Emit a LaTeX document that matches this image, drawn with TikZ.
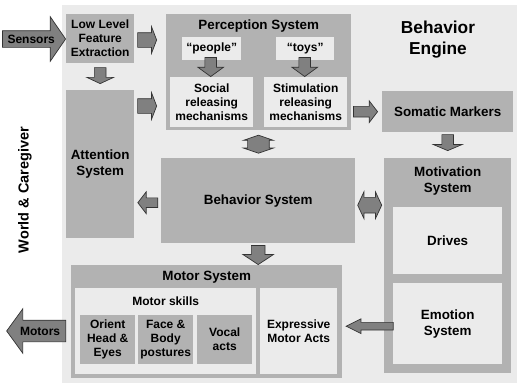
\documentclass[tikz,border=0pt]{standalone}
\usepackage{fontspec}
\setmainfont{Liberation Sans}
\usetikzlibrary{shapes.arrows,calc}
\definecolor{bggray}{gray}{0.92}
\definecolor{boxgray}{gray}{0.70}
\definecolor{arrowgray}{gray}{0.50}
\definecolor{edgegray}{gray}{0.20}
\tikzset{
  box/.style={fill=boxgray, align=center, inner sep=0pt, anchor=north west, font=\bfseries\fontsize{12}{14}\selectfont},
  palebox/.style={box, fill=bggray},
  bigtext/.style={font=\bfseries\fontsize{13.4}{16}\selectfont},
  boxtitle/.style={anchor=center, align=center, font=\bfseries\fontsize{13.4}{16}\selectfont},
  barrow/.style={single arrow, draw=edgegray, fill=arrowgray, line width=0.7pt, inner sep=0pt, minimum width=0pt},
  darrow/.style={double arrow, draw=edgegray, fill=arrowgray, line width=0.7pt, inner sep=0pt, minimum width=0pt}
}
\begin{document}
\begin{tikzpicture}[x=1pt, y=-1pt]
  \useasboundingbox (0,0) rectangle (517,383);
  \fill[bggray] (62,5) rectangle (517,383);
  % boxes
  \node[box, minimum width=68pt, minimum height=49pt] (llfe) at (66,14) {Low Level\\Feature\\Extraction};
  \node[box, bigtext, minimum width=68pt, minimum height=148pt] (attn) at (66,90) {Attention\\System};
  \node[box, minimum width=185pt, minimum height=116pt,
        label={[boxtitle, yshift=-12pt]north:Perception System}] (percep) at (166,14) {};
  \node[palebox, minimum width=59pt, minimum height=23pt] (people) at (182,37) {“people”};
  \node[palebox, minimum width=58pt, minimum height=23pt] (toys) at (276,37) {“toys”};
  \node[palebox, minimum width=83pt, minimum height=50pt] (social) at (170,77) {Social\\releasing\\mechanisms};
  \node[palebox, minimum width=83pt, minimum height=50pt] (stim) at (264,77) {Stimulation\\releasing\\mechanisms};
  \node[font=\bfseries\fontsize{17.3}{21}\selectfont, align=center] (engine) at (438,40) {Behavior\\Engine};
  \node[box, bigtext, minimum width=131pt, minimum height=41pt] (somatic) at (382,91) {Somatic Markers};
  \node[box, bigtext, minimum width=194pt, minimum height=85pt] (behav) at (161,158) {Behavior System};
  \node[box, minimum width=127pt, minimum height=215pt,
        label={[boxtitle, yshift=-23pt]north:Motivation\\System}] (motiv) at (384,158) {};
  \node[palebox, bigtext, minimum width=109pt, minimum height=67pt] (drives) at (393,207) {Drives};
  \node[palebox, bigtext, minimum width=109pt, minimum height=81pt] (emotion) at (393,283) {Emotion\\System};
  \node[box, minimum width=271pt, minimum height=113pt,
        label={[boxtitle, yshift=-12pt]north:Motor System}] (motor) at (71,265) {};
  \node[palebox, minimum width=181pt, minimum height=86pt,
        label={[anchor=center, font=\bfseries\fontsize{12}{14}\selectfont, yshift=-13pt]north:Motor skills}] (skills) at (75,288) {};
  \node[box, minimum width=55pt, minimum height=49pt] (orient) at (80,315) {Orient\\Head \&\\Eyes};
  \node[box, minimum width=55pt, minimum height=49pt] (face) at (138,315) {Face \&\\Body\\postures};
  \node[box, minimum width=55pt, minimum height=49pt] (vocal) at (197,315) {Vocal\\acts};
  \node[palebox, minimum width=77pt, minimum height=86pt] (expr) at (260,288) {Expressive\\Motor Acts};
  \node[rotate=90, font=\bfseries\fontsize{14.5}{17}\selectfont] (world) at (25,190) {World \& Caregiver};
  % block arrows
  \node[barrow, font=\bfseries\fontsize{12}{14}\selectfont, text height=8pt, text depth=0pt, inner ysep=4pt,
        minimum height=63pt, single arrow head extend=14pt, single arrow tip angle=111, anchor=tip] (sensors) at (llfe.west |- 0,39) {Sensors};
  \node[barrow, font=\bfseries\fontsize{12}{14}\selectfont, text height=8pt, text depth=0pt, inner ysep=6.5pt,
        minimum height=59pt, single arrow head extend=11.5pt, single arrow tip angle=108, shape border rotate=180,
        anchor=tail] (motors) at ([xshift=-5pt]motor.west |- 0,331) {Motors};
  \node[barrow, inner ysep=7pt, minimum height=19pt, single arrow head extend=6pt, single arrow tip angle=138,
        anchor=tip] (llfe2percep) at ([xshift=-9pt]percep.west |- 0,40) {};
  \node[barrow, inner ysep=7pt, minimum height=19pt, single arrow head extend=6pt, single arrow tip angle=138,
        anchor=tip] (attn2percep) at ([xshift=-9pt]percep.west |- 0,106) {};
  \node[barrow, inner xsep=5.5pt, minimum height=16pt, single arrow head extend=7.5pt, single arrow tip angle=130,
        shape border rotate=270, anchor=tip] (llfe2attn) at ([yshift=6pt]attn.north) {};
  \node[barrow, inner xsep=5.5pt, minimum height=19pt, single arrow head extend=7pt, single arrow tip angle=108,
        shape border rotate=270, anchor=tip] (people2social) at ([xshift=-1pt]social.north) {};
  \node[barrow, inner xsep=5.5pt, minimum height=19pt, single arrow head extend=7pt, single arrow tip angle=108,
        shape border rotate=270, anchor=tip] (toys2stim) at ([xshift=-1pt]stim.north) {};
  \node[barrow, inner ysep=5pt, minimum height=24pt, single arrow head extend=5.5pt, single arrow tip angle=105,
        anchor=tip] (percep2somatic) at ([xshift=-4pt]somatic.west) {};
  \node[barrow, inner xsep=5.5pt, minimum height=16pt, single arrow head extend=8.5pt, single arrow tip angle=134,
        shape border rotate=270, anchor=tip] (somatic2motiv) at ([yshift=7pt]motiv.north) {};
  \node[barrow, inner ysep=4.5pt, minimum height=20pt, single arrow head extend=6pt, single arrow tip angle=105,
        shape border rotate=180, anchor=tip] (behav2attn) at ([xshift=3pt, yshift=-2pt]attn.east |- behav) {};
  \node[barrow, inner xsep=6.5pt, minimum height=19pt, single arrow head extend=8.5pt, single arrow tip angle=113,
        shape border rotate=270, anchor=tip] (behav2motor) at (behav |- motor.north) {};
  \node[barrow, inner ysep=3.5pt, minimum height=47pt, single arrow head extend=3.5pt, single arrow tip angle=53,
        shape border rotate=180, anchor=tip] (emotion2expr) at ([xshift=8pt, yshift=-2.5pt]expr.east |- emotion) {};
  \node[darrow, inner xsep=10.5pt, minimum height=18pt, double arrow head extend=4pt, double arrow tip angle=142,
        shape border rotate=90] (percep2behav) at ($(percep.south)!.5!(behav.north)$) {};
  \node[darrow, inner ysep=7.5pt, minimum height=24pt, double arrow head extend=5.5pt, double arrow tip angle=130,
        yshift=-4.5pt] (behav2motiv) at ($(behav.east)!.5!(behav.east -| motiv.west)$) {};
\end{tikzpicture}
\end{document}
